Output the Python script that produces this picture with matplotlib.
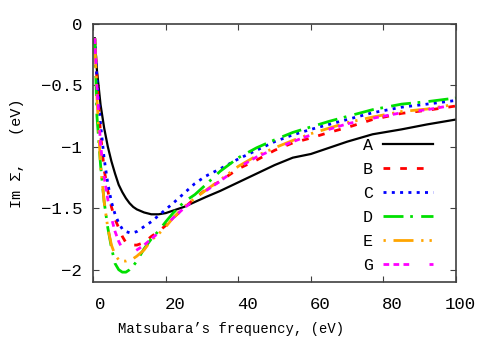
import matplotlib
matplotlib.use('Agg')
import matplotlib.pyplot as plt
import matplotlib.transforms as mtransforms

plt.rcParams['font.family'] = ['Liberation Mono', 'DejaVu Sans Mono']
plt.rcParams['lines.scale_dashes'] = False

# Matsubara frequencies (eV)
freq = [0.4, 1, 2, 3, 4, 5, 6, 7, 8, 9, 10, 11, 12, 14, 16, 18, 20, 22, 25, 28,
        31, 35, 40, 45, 50, 55, 60, 65, 70, 77, 85, 92, 100]

# Im Sigma for each case (eV)
sig_A = [-0.12, -0.38, -0.66, -0.85, -1.00, -1.12, -1.22, -1.31, -1.37, -1.42, -1.46,
         -1.49, -1.51, -1.535, -1.55, -1.55, -1.54, -1.52, -1.49, -1.45, -1.41, -1.36,
         -1.29, -1.22, -1.15, -1.09, -1.06, -1.01, -0.96, -0.90, -0.86, -0.82, -0.78]
sig_B = [-0.12, -0.45, -0.90, -1.19, -1.36, -1.49, -1.59, -1.66, -1.73, -1.78, -1.79,
         -1.80, -1.80, -1.78, -1.73, -1.69, -1.64, -1.58, -1.50, -1.42, -1.35, -1.28,
         -1.18, -1.11, -1.03, -0.97, -0.93, -0.885, -0.845, -0.78, -0.73, -0.705, -0.67]
sig_C = [-0.12, -0.45, -0.82, -1.10, -1.30, -1.45, -1.55, -1.62, -1.67, -1.69, -1.70,
         -1.70, -1.69, -1.65, -1.61, -1.56, -1.51, -1.46, -1.38, -1.30, -1.24, -1.18,
         -1.10, -1.03, -0.96, -0.905, -0.86, -0.82, -0.78, -0.725, -0.68, -0.655, -0.625]
sig_D = [-0.12, -0.75, -1.15, -1.45, -1.66, -1.82, -1.95, -2.00, -2.02, -2.02, -2.00,
         -1.97, -1.93, -1.83, -1.75, -1.685, -1.61, -1.54, -1.45, -1.39, -1.31, -1.20,
         -1.09, -1.01, -0.945, -0.885, -0.84, -0.795, -0.755, -0.70, -0.655, -0.635, -0.605]
sig_E = [-0.12, -0.60, -1.15, -1.45, -1.66, -1.80, -1.88, -1.92, -1.93, -1.93, -1.92,
         -1.91, -1.89, -1.84, -1.76, -1.71, -1.65, -1.58, -1.49, -1.42, -1.355, -1.27,
         -1.16, -1.075, -1.01, -0.95, -0.895, -0.85, -0.805, -0.76, -0.715, -0.695, -0.655]
sig_G = [-0.12, -0.50, -0.98, -1.25, -1.43, -1.58, -1.69, -1.77, -1.83, -1.86, -1.87,
         -1.86, -1.84, -1.80, -1.75, -1.70, -1.64, -1.58, -1.50, -1.43, -1.36, -1.28,
         -1.17, -1.085, -1.02, -0.96, -0.905, -0.86, -0.815, -0.77, -0.725, -0.70, -0.66]

labels = ['A', 'B', 'C', 'D', 'E', 'G']
series = [sig_A, sig_B, sig_C, sig_D, sig_E, sig_G]
colors = ['black', '#ff0000', '#0000ff', '#00e000', '#ffa500', '#ff00ff']
px = 0.72  # points per pixel at dpi 100
styles = ['-',
          (0, (6.7 * px, 10 * px)),
          (0, (3 * px, 5.3 * px)),
          (0, (20 * px, 6.7 * px, 2.7 * px, 8.3 * px)),
          (36 * px, (20 * px, 7.7 * px, 2.3 * px, 6 * px, 2.3 * px, 7.7 * px)),
          (0, (5.7 * px, 4.3 * px, 5.7 * px, 4.3 * px, 5.7 * px, 20.3 * px))]
widths = [1.6, 2, 2, 2, 2, 2]

fig = plt.figure(figsize=(4.91, 3.43), dpi=100)
ax = fig.add_axes([93.3 / 491, 1 - 282 / 343, (456 - 93.3) / 491, (282 - 23.5) / 343])

for lab, ys, c, ls, lw in zip(labels, series, colors, styles, widths):
    ax.plot(freq, ys, color=c, linestyle=ls, lw=lw, label=lab)

ax.set_xlim(0, 100)
ax.set_ylim(-2.1, 0)
ax.set_xticks([0, 20, 40, 60, 80, 100])
ax.set_yticks([0, -0.5, -1, -1.5, -2])
ax.set_yticklabels(['0', '\u22120.5', '\u22121', '\u22121.5', '\u22122'])
ax.tick_params(direction='in', length=4, width=0.8, color='#404040',
               top=True, right=True, labelsize=12.5, pad=8)
ax.tick_params(axis='x', pad=11)
for sp in ax.spines.values():
    sp.set_color('#404040')
    sp.set_linewidth(1.2)

# gnuplot-like horizontal placement of x tick labels
shift = {1: 7, 2: 9, 3: 4}
for tick, txt in zip(ax.xaxis.get_major_ticks(), ['0', '20', '40', '60', '80', '100']):
    off = mtransforms.ScaledTranslation(shift[len(txt)] / 100, 0, fig.dpi_scale_trans)
    tick.label1.set_transform(tick.label1.get_transform() + off)

ax.set_xlabel("Matsubara\u2019s frequency, (eV)", fontsize=10, va='center')
ax.xaxis.set_label_coords(0.381, -0.182)
ax.set_ylabel('Im \u03a3,   (eV)', fontsize=11, va='center')
ax.yaxis.set_label_coords(-0.211, 0.5)

ax.legend(loc='upper right', bbox_to_anchor=(433 / 491, 1 - 138 / 343),
          bbox_transform=fig.transFigure, frameon=False, markerfirst=False,
          fontsize=12, handlelength=50 * px / 12, handletextpad=0.6,
          labelspacing=0.54, borderpad=0, borderaxespad=0)

fig.savefig('out.png', dpi=100)
